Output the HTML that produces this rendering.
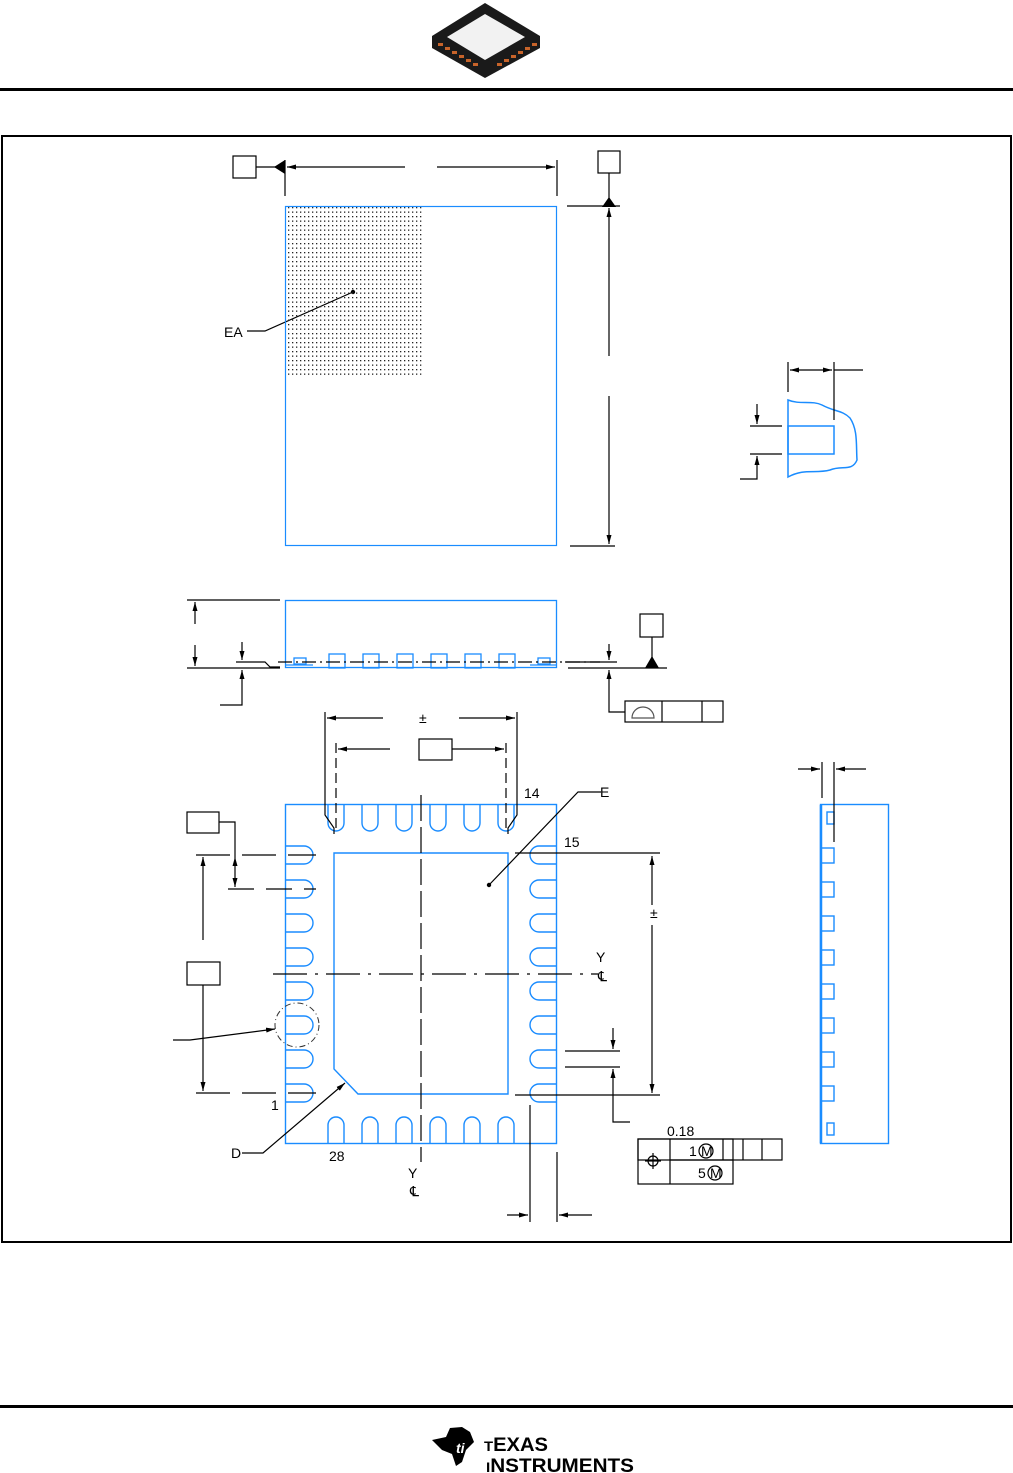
<!DOCTYPE html>
<html><head><meta charset="utf-8"><style>
html,body{margin:0;padding:0;background:#fff;}
svg{display:block;}
text{font-family:"Liberation Sans",sans-serif;font-size:14px;fill:#000;}
</style></head><body>
<svg width="1013" height="1473" viewBox="0 0 1013 1473" xmlns="http://www.w3.org/2000/svg">
<defs>
<pattern id="dots" width="4" height="4.5" patternUnits="userSpaceOnUse">
<rect x="0" y="0" width="1.3" height="1.3" fill="#222"/>
</pattern>
<marker id="ar" markerWidth="10" markerHeight="8" refX="9" refY="4" orient="auto" markerUnits="userSpaceOnUse">
<path d="M0,1.5 L9,4 L0,6.5 Z" fill="#000"/>
</marker>
</defs>

<!-- chip image -->
<g>
<path d="M432,36 L485,3 L540,36 L540,48 L485,78 L432,48 Z" fill="#1a1a1a"/>
<path d="M447,37 L485,14 L525,37 L485,60 Z" fill="#f2f2f2"/>
<g fill="#c8642a">
<rect x="438" y="43" width="5" height="3"/><rect x="445" y="47" width="5" height="3"/><rect x="452" y="51" width="5" height="3"/><rect x="459" y="55" width="5" height="3"/><rect x="466" y="59" width="5" height="3"/><rect x="473" y="63" width="5" height="3"/>
<rect x="497" y="63" width="5" height="3"/><rect x="504" y="59" width="5" height="3"/><rect x="511" y="55" width="5" height="3"/><rect x="518" y="51" width="5" height="3"/><rect x="525" y="47" width="5" height="3"/><rect x="532" y="43" width="5" height="3"/>
</g>
</g>
<rect x="0" y="88" width="1013" height="3" fill="#000"/>
<rect x="2" y="136" width="1009" height="1106" fill="none" stroke="#000" stroke-width="2"/>

<g stroke="#000" stroke-width="1.2" fill="none">
<rect x="233" y="156" width="23" height="22"/>
<line x1="256" y1="167" x2="276" y2="167"/>
<line x1="285" y1="160" x2="285" y2="196"/>
<line x1="557" y1="160" x2="557" y2="196"/>
<line x1="405" y1="167" x2="287" y2="167" marker-end="url(#ar)"/>
<line x1="437" y1="167" x2="555" y2="167" marker-end="url(#ar)"/>
<rect x="598" y="151" width="22" height="22"/>
<line x1="609" y1="173" x2="609" y2="200"/>
<line x1="567" y1="206" x2="620" y2="206"/>
<line x1="570" y1="546" x2="615" y2="546"/>
<line x1="609" y1="356" x2="609" y2="208" marker-end="url(#ar)"/>
<line x1="609" y1="396" x2="609" y2="544" marker-end="url(#ar)"/>
<polyline points="247,331 265,331 353,292"/>
</g>
<path d="M274,167 L285,160 L285,174 Z" fill="#000"/>
<path d="M609,197 L602,207 L616,207 Z" fill="#000"/>
<circle cx="353" cy="292" r="2.2" fill="#000"/>
<text x="224" y="337">EA</text>
<rect x="286" y="207" width="136" height="170" fill="url(#dots)"/>
<rect x="285.5" y="206.5" width="271" height="339" fill="none" stroke="#1a8cff" stroke-width="1.2"/>

<g stroke="#1a8cff" stroke-width="1.5" fill="none">
<path d="M788,400 C800,405 812,400 822,405 C835,412 842,410 850,418 C858,430 856,445 857,460 C852,472 842,465 830,470 C815,474 805,468 788,477 Z"/>
<rect x="788" y="426" width="46" height="28"/>
</g>
<g stroke="#000" stroke-width="1.2" fill="none">
<line x1="788" y1="362" x2="788" y2="392"/>
<line x1="834" y1="362" x2="834" y2="420"/>
<line x1="834" y1="370" x2="863" y2="370"/>
<line x1="811" y1="370" x2="790" y2="370" marker-end="url(#ar)"/>
<line x1="811" y1="370" x2="832" y2="370" marker-end="url(#ar)"/>
<line x1="750" y1="426" x2="782" y2="426"/>
<line x1="750" y1="454" x2="782" y2="454"/>
<line x1="757" y1="404" x2="757" y2="424" marker-end="url(#ar)"/>
<polyline points="740,479 757,479 757,456" marker-end="url(#ar)"/>
</g>

<g stroke="#1a8cff" stroke-width="1.3" fill="none">
<rect x="285.5" y="600.5" width="271" height="67"/>
<rect x="329" y="654" width="16" height="14"/><rect x="363" y="654" width="16" height="14"/><rect x="397" y="654" width="16" height="14"/><rect x="431" y="654" width="16" height="14"/><rect x="465" y="654" width="16" height="14"/><rect x="499" y="654" width="16" height="14"/>
<rect x="294" y="658" width="12" height="6"/><rect x="538" y="658" width="12" height="6"/>
<line x1="286" y1="665" x2="313" y2="665"/><line x1="530" y1="665" x2="557" y2="665"/>
</g>
<g stroke="#000" stroke-width="1.2" fill="none">
<line x1="187" y1="600" x2="280" y2="600"/>
<line x1="187" y1="668" x2="280" y2="668"/>
<line x1="568" y1="668" x2="667" y2="668"/>
<line x1="195" y1="624" x2="195" y2="602" marker-end="url(#ar)"/>
<line x1="195" y1="645" x2="195" y2="666" marker-end="url(#ar)"/>
<polyline points="236,662 265,662 270,667 280,667"/>
<line x1="242" y1="642" x2="242" y2="660" marker-end="url(#ar)"/>
<polyline points="220,705 242,705 242,670" marker-end="url(#ar)"/>
<line x1="278" y1="662" x2="600" y2="662" stroke-dasharray="14,4,2,4"/>
<line x1="565" y1="662" x2="617" y2="662"/>
<line x1="609" y1="644" x2="609" y2="660" marker-end="url(#ar)"/>
<polyline points="625,712 609,712 609,670" marker-end="url(#ar)"/>
<rect x="640" y="614" width="23" height="23"/>
<line x1="652" y1="637" x2="652" y2="658"/>
<rect x="625" y="701" width="98" height="21"/>
<line x1="662" y1="701" x2="662" y2="722"/><line x1="702" y1="701" x2="702" y2="722"/>
<path d="M632,718 A11,11 0 0 1 654,718 Z" stroke="#555"/>
</g>
<path d="M652,656 L645,668 L659,668 Z" fill="#000"/>

<g stroke="#1a8cff" stroke-width="1.4" fill="none">
<rect x="285.5" y="804.5" width="271" height="339"/>
<path d="M334,853 L508,853 L508,1094 L358,1094 L334,1069 Z"/>
<g id="lp">
<path d="M286,846 L304,846 A9,9 0 0 1 304,864 L286,864"/>
<path d="M286,880 L304,880 A9,9 0 0 1 304,898 L286,898"/>
<path d="M286,914 L304,914 A9,9 0 0 1 304,932 L286,932"/>
<path d="M286,948 L304,948 A9,9 0 0 1 304,966 L286,966"/>
<path d="M286,982 L304,982 A9,9 0 0 1 304,1000 L286,1000"/>
<path d="M286,1016 L304,1016 A9,9 0 0 1 304,1034 L286,1034"/>
<path d="M286,1050 L304,1050 A9,9 0 0 1 304,1068 L286,1068"/>
<path d="M286,1084 L304,1084 A9,9 0 0 1 304,1102 L286,1102"/>
</g>
<use href="#lp" transform="translate(843,0) scale(-1,1)"/>
<g id="tp">
<path d="M328,805 L328,823 A8,8 0 0 0 344,823 L344,805"/>
<path d="M362,805 L362,823 A8,8 0 0 0 378,823 L378,805"/>
<path d="M396,805 L396,823 A8,8 0 0 0 412,823 L412,805"/>
<path d="M430,805 L430,823 A8,8 0 0 0 446,823 L446,805"/>
<path d="M464,805 L464,823 A8,8 0 0 0 480,823 L480,805"/>
<path d="M498,805 L498,823 A8,8 0 0 0 514,823 L514,805"/>
</g>
<use href="#tp" transform="translate(0,1948) scale(1,-1)"/>
</g>
<circle cx="297" cy="1025" r="22" fill="none" stroke="#333" stroke-width="1" stroke-dasharray="6,3,1,3"/>
<g stroke="#000" stroke-width="1.2" fill="none">
<polyline points="325,712 325,815 334,828 334,834"/>
<polyline points="517,712 517,815 508,828 508,834"/>
<line x1="383" y1="718" x2="327" y2="718" marker-end="url(#ar)"/>
<line x1="459" y1="718" x2="515" y2="718" marker-end="url(#ar)"/>
<line x1="336" y1="743" x2="336" y2="830" stroke-dasharray="10,5"/>
<line x1="506" y1="743" x2="506" y2="830" stroke-dasharray="10,5"/>
<line x1="390" y1="749" x2="338" y2="749" marker-end="url(#ar)"/>
<rect x="419" y="739" width="33" height="21"/>
<line x1="452" y1="749" x2="504" y2="749" marker-end="url(#ar)"/>
<rect x="187" y="812" width="32" height="21"/>
<polyline points="219,822 235,822 235,857"/>
<line x1="235" y1="870" x2="235" y2="857" marker-end="url(#ar)"/>
<line x1="235" y1="870" x2="235" y2="887" marker-end="url(#ar)"/>
<line x1="196" y1="855" x2="316" y2="855" stroke-dasharray="34,12"/>
<line x1="228" y1="889" x2="316" y2="889" stroke-dasharray="26,12"/>
<line x1="196" y1="1093" x2="316" y2="1093" stroke-dasharray="34,12"/>
<line x1="203" y1="940" x2="203" y2="857" marker-end="url(#ar)"/>
<rect x="187" y="962" width="33" height="23"/>
<line x1="203" y1="985" x2="203" y2="1091" marker-end="url(#ar)"/>
<polyline points="173,1040 190,1040 275,1029" marker-end="url(#ar)"/>
<line x1="273" y1="974" x2="598" y2="974" stroke-dasharray="34,8,3,8"/>
<line x1="421" y1="795" x2="421" y2="1162" stroke-dasharray="26,6"/>
<polyline points="601,792 578,792 489,885"/>
<polyline points="242,1153 263,1153 345,1083" marker-end="url(#ar)"/>
<line x1="515" y1="853" x2="660" y2="853"/>
<line x1="515" y1="1095" x2="660" y2="1095"/>
<line x1="652" y1="905" x2="652" y2="856" marker-end="url(#ar)"/>
<line x1="652" y1="925" x2="652" y2="1093" marker-end="url(#ar)"/>
<line x1="565" y1="1051" x2="620" y2="1051"/>
<line x1="565" y1="1067" x2="620" y2="1067"/>
<line x1="613" y1="1028" x2="613" y2="1049" marker-end="url(#ar)"/>
<polyline points="630,1122 613,1122 613,1069" marker-end="url(#ar)"/>
<line x1="530" y1="1105" x2="530" y2="1222"/>
<line x1="557" y1="1152" x2="557" y2="1222"/>
<line x1="507" y1="1215" x2="528" y2="1215" marker-end="url(#ar)"/>
<line x1="592" y1="1215" x2="559" y2="1215" marker-end="url(#ar)"/>
<rect x="638" y="1139" width="144" height="21"/>
<rect x="638" y="1139" width="95" height="45"/>
<line x1="670" y1="1139" x2="670" y2="1184"/>
<line x1="670" y1="1160" x2="733" y2="1160"/>
<line x1="723" y1="1139" x2="723" y2="1160"/><line x1="743" y1="1139" x2="743" y2="1160"/><line x1="762" y1="1139" x2="762" y2="1160"/>
<circle cx="653" cy="1161" r="5"/>
<line x1="645" y1="1161" x2="661" y2="1161"/><line x1="653" y1="1153" x2="653" y2="1169"/>
<circle cx="706" cy="1151" r="7"/>
<circle cx="715" cy="1173" r="7"/>
</g>
<circle cx="489" cy="885" r="2.2" fill="#000"/>
<text x="524" y="798">14</text>
<text x="564" y="847">15</text>
<text x="600" y="797">E</text>
<text x="271" y="1110">1</text>
<text x="329" y="1161">28</text>
<text x="231" y="1158">D</text>
<text x="596" y="962">Y</text>
<text x="598" y="981">℄</text>
<text x="408" y="1178">Y</text>
<text x="410" y="1196">℄</text>
<text x="419" y="723" font-size="13">±</text>
<text x="650" y="918" font-size="13">±</text>
<text x="667" y="1136">0.18</text>
<text x="689" y="1156">1</text>
<text x="701" y="1156" font-size="11">M</text>
<text x="698" y="1178">5</text>
<text x="710" y="1178" font-size="11">M</text>

<g stroke="#1a8cff" stroke-width="1.4" fill="none">
<rect x="820.5" y="804.5" width="68" height="339"/>
<rect x="821" y="848" width="13" height="15"/><rect x="821" y="882" width="13" height="15"/><rect x="821" y="916" width="13" height="15"/><rect x="821" y="950" width="13" height="15"/><rect x="821" y="984" width="13" height="15"/><rect x="821" y="1018" width="13" height="15"/><rect x="821" y="1052" width="13" height="15"/><rect x="821" y="1086" width="13" height="15"/>
<rect x="827" y="812" width="7" height="12"/><rect x="827" y="1123" width="7" height="12"/>
</g>
<line x1="821" y1="805" x2="821" y2="1143" stroke="#1a8cff" stroke-width="2.5"/>
<g stroke="#000" stroke-width="1.2" fill="none">
<line x1="822" y1="762" x2="822" y2="798"/>
<line x1="834" y1="762" x2="834" y2="842"/>
<line x1="798" y1="769" x2="820" y2="769" marker-end="url(#ar)"/>
<line x1="866" y1="769" x2="836" y2="769" marker-end="url(#ar)"/>
</g>

<rect x="0" y="1405" width="1013" height="3" fill="#000"/>
<path d="M432,1440 L446,1437 L450,1428 L462,1427 L470,1432 L474,1442 L466,1450 L462,1462 L456,1466 L452,1454 L442,1450 Z" fill="#000"/>
<text x="456" y="1453" font-size="14" font-weight="bold" font-style="italic" style="fill:#fff">ti</text>
<text x="484" y="1451" font-family="Liberation Serif,serif" font-size="24" font-weight="bold" textLength="64" lengthAdjust="spacingAndGlyphs">T<tspan font-size="19">EXAS</tspan></text>
<text x="486" y="1472" font-family="Liberation Serif,serif" font-size="24" font-weight="bold" textLength="148" lengthAdjust="spacingAndGlyphs">I<tspan font-size="19">NSTRUMENTS</tspan></text>
</svg>
</body></html>
